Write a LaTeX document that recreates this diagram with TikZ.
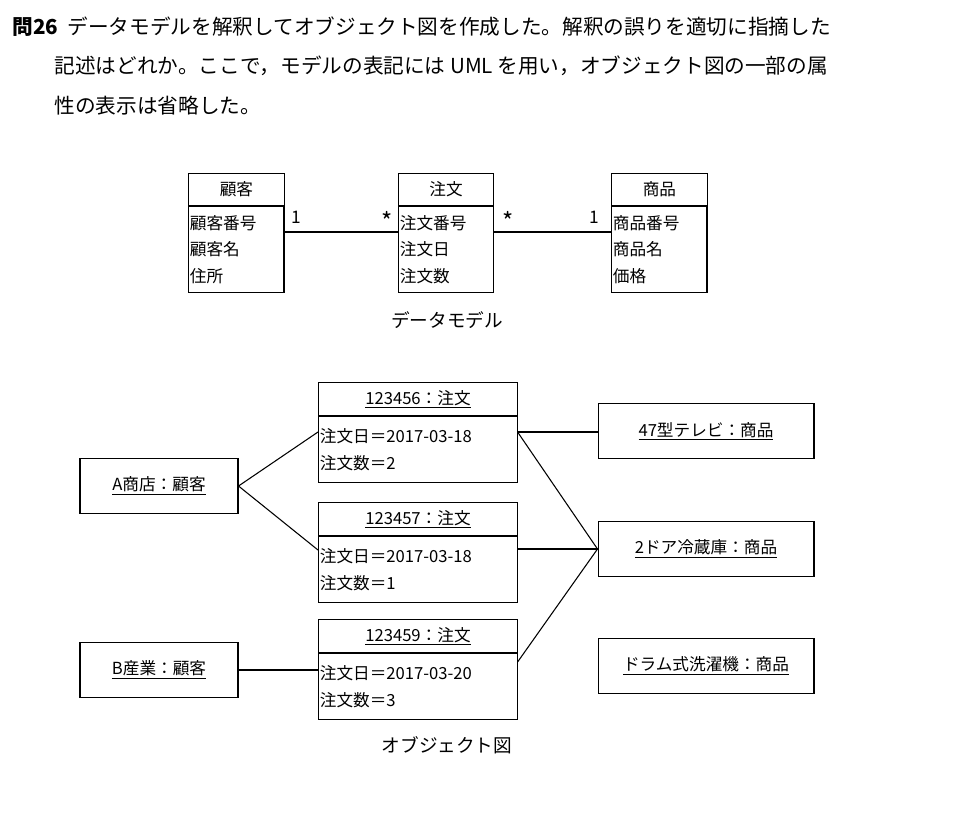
\documentclass[tikz,border=0pt]{standalone}
\usepackage{fontspec}
\setmainfont{Noto Sans CJK JP}
\usetikzlibrary{positioning}
\tikzset{
  box/.style={draw,thick,inner sep=2pt,font=\fontsize{12.5pt}{20pt}\selectfont},
  head/.style={box,align=center},
  body/.style={box,align=left,anchor=north west,inner sep=1pt},
  obj/.style={box,align=center,minimum height=1.45cm,minimum width=5.7cm},
  lbl/.style={font=\fontsize{13pt}{14pt}\selectfont},
  ques/.style={anchor=west,font=\fontsize{15.5pt}{17pt}\selectfont}
}
\begin{document}
\begin{tikzpicture}[x=0.0264cm,y=-0.0264cm]
  \useasboundingbox (0,0) rectangle (974,820);
  % question
  \node[ques] (q1) at (8,27) {\textbf{問26}\ \ データモデルを解釈してオブジェクト図を作成した。解釈の誤りを適切に指摘した};
  \node[ques] (q2) at (50,66) {記述はどれか。ここで，モデルの表記には UML を用い，オブジェクト図の一部の属};
  \node[ques] (q3) at (50,106) {性の表示は省略した。};

  % data model
  \node[head,minimum width=2.53cm,minimum height=0.84cm,anchor=north west] (kokyaku) at (188,173) {顧客};
  \node[body,text width=2.45cm,minimum height=2.27cm] (kokyakuB) at (kokyaku.south west) {顧客番号\\顧客名\\住所};
  \node[head,minimum width=2.51cm,minimum height=0.84cm,anchor=north west] (chumon) at (398,173) {注文};
  \node[body,text width=2.43cm,minimum height=2.27cm] (chumonB) at (chumon.south west) {注文番号\\注文日\\注文数};
  \node[head,minimum width=2.53cm,minimum height=0.84cm,anchor=north west] (shohin) at (611,173) {商品};
  \node[body,text width=2.45cm,minimum height=2.27cm] (shohinB) at (shohin.south west) {商品番号\\商品名\\価格};

  \draw[thick] (kokyakuB.east |- 0,232) -- (chumonB.west |- 0,232);
  \draw[thick] (chumonB.east |- 0,232) -- (shohinB.west |- 0,232);
  \node[lbl] (m1) at (296,217) {1};
  \node[lbl,font=\fontsize{18pt}{18pt}\selectfont] (m2) at (387,221) {*};
  \node[lbl,font=\fontsize{18pt}{18pt}\selectfont] (m3) at (508,221) {*};
  \node[lbl] (m4) at (594,217) {1};
  \node[lbl,font=\fontsize{14pt}{16pt}\selectfont] (cap1) at (447,320) {データモデル};

  % object diagram
  \node[obj,minimum width=4.17cm] (a) at (159,486) {\underline{A商店：顧客}};
  \node[obj,minimum width=4.17cm] (b) at (159,670) {\underline{B産業：顧客}};
  \foreach \n/\y/\num/\d/\q in {o1/382/123456/18/2,o2/502/123457/18/1,o3/619/123459/20/3}{
    \node[head,minimum width=5.25cm,minimum height=0.88cm,anchor=north west] (\n) at (318,\y) {\underline{\num：注文}};
    \node[body,text width=5.17cm,minimum height=1.74cm] (\n B) at (\n.south west) {注文日＝2017-03-\d\\注文数＝\q};
  }
  \node[obj] (tv) at (706,431) {\underline{47型テレビ：商品}};
  \node[obj] (fr) at (706,549) {\underline{2ドア冷蔵庫：商品}};
  \node[obj] (wm) at (706,666) {\underline{ドラム式洗濯機：商品}};

  \draw[thick] (a.east) -- (o1B.west |- 0,432);
  \draw[thick] (a.east) -- (o2B.west |- 0,550);
  \draw[thick] (b.east) -- (o3B.west |- 0,670);
  \draw[thick] (o1B.east |- 0,432) -- (tv.west |- 0,432);
  \draw[thick] (o1B.east |- 0,432) -- (fr.west);
  \draw[thick] (o2B.east |- 0,549) -- (fr.west);
  \draw[thick] (o3B.east |- 0,662) -- (fr.west);
  \node[lbl,font=\fontsize{14pt}{16pt}\selectfont] (cap2) at (447,745) {オブジェクト図};
\end{tikzpicture}
\end{document}
